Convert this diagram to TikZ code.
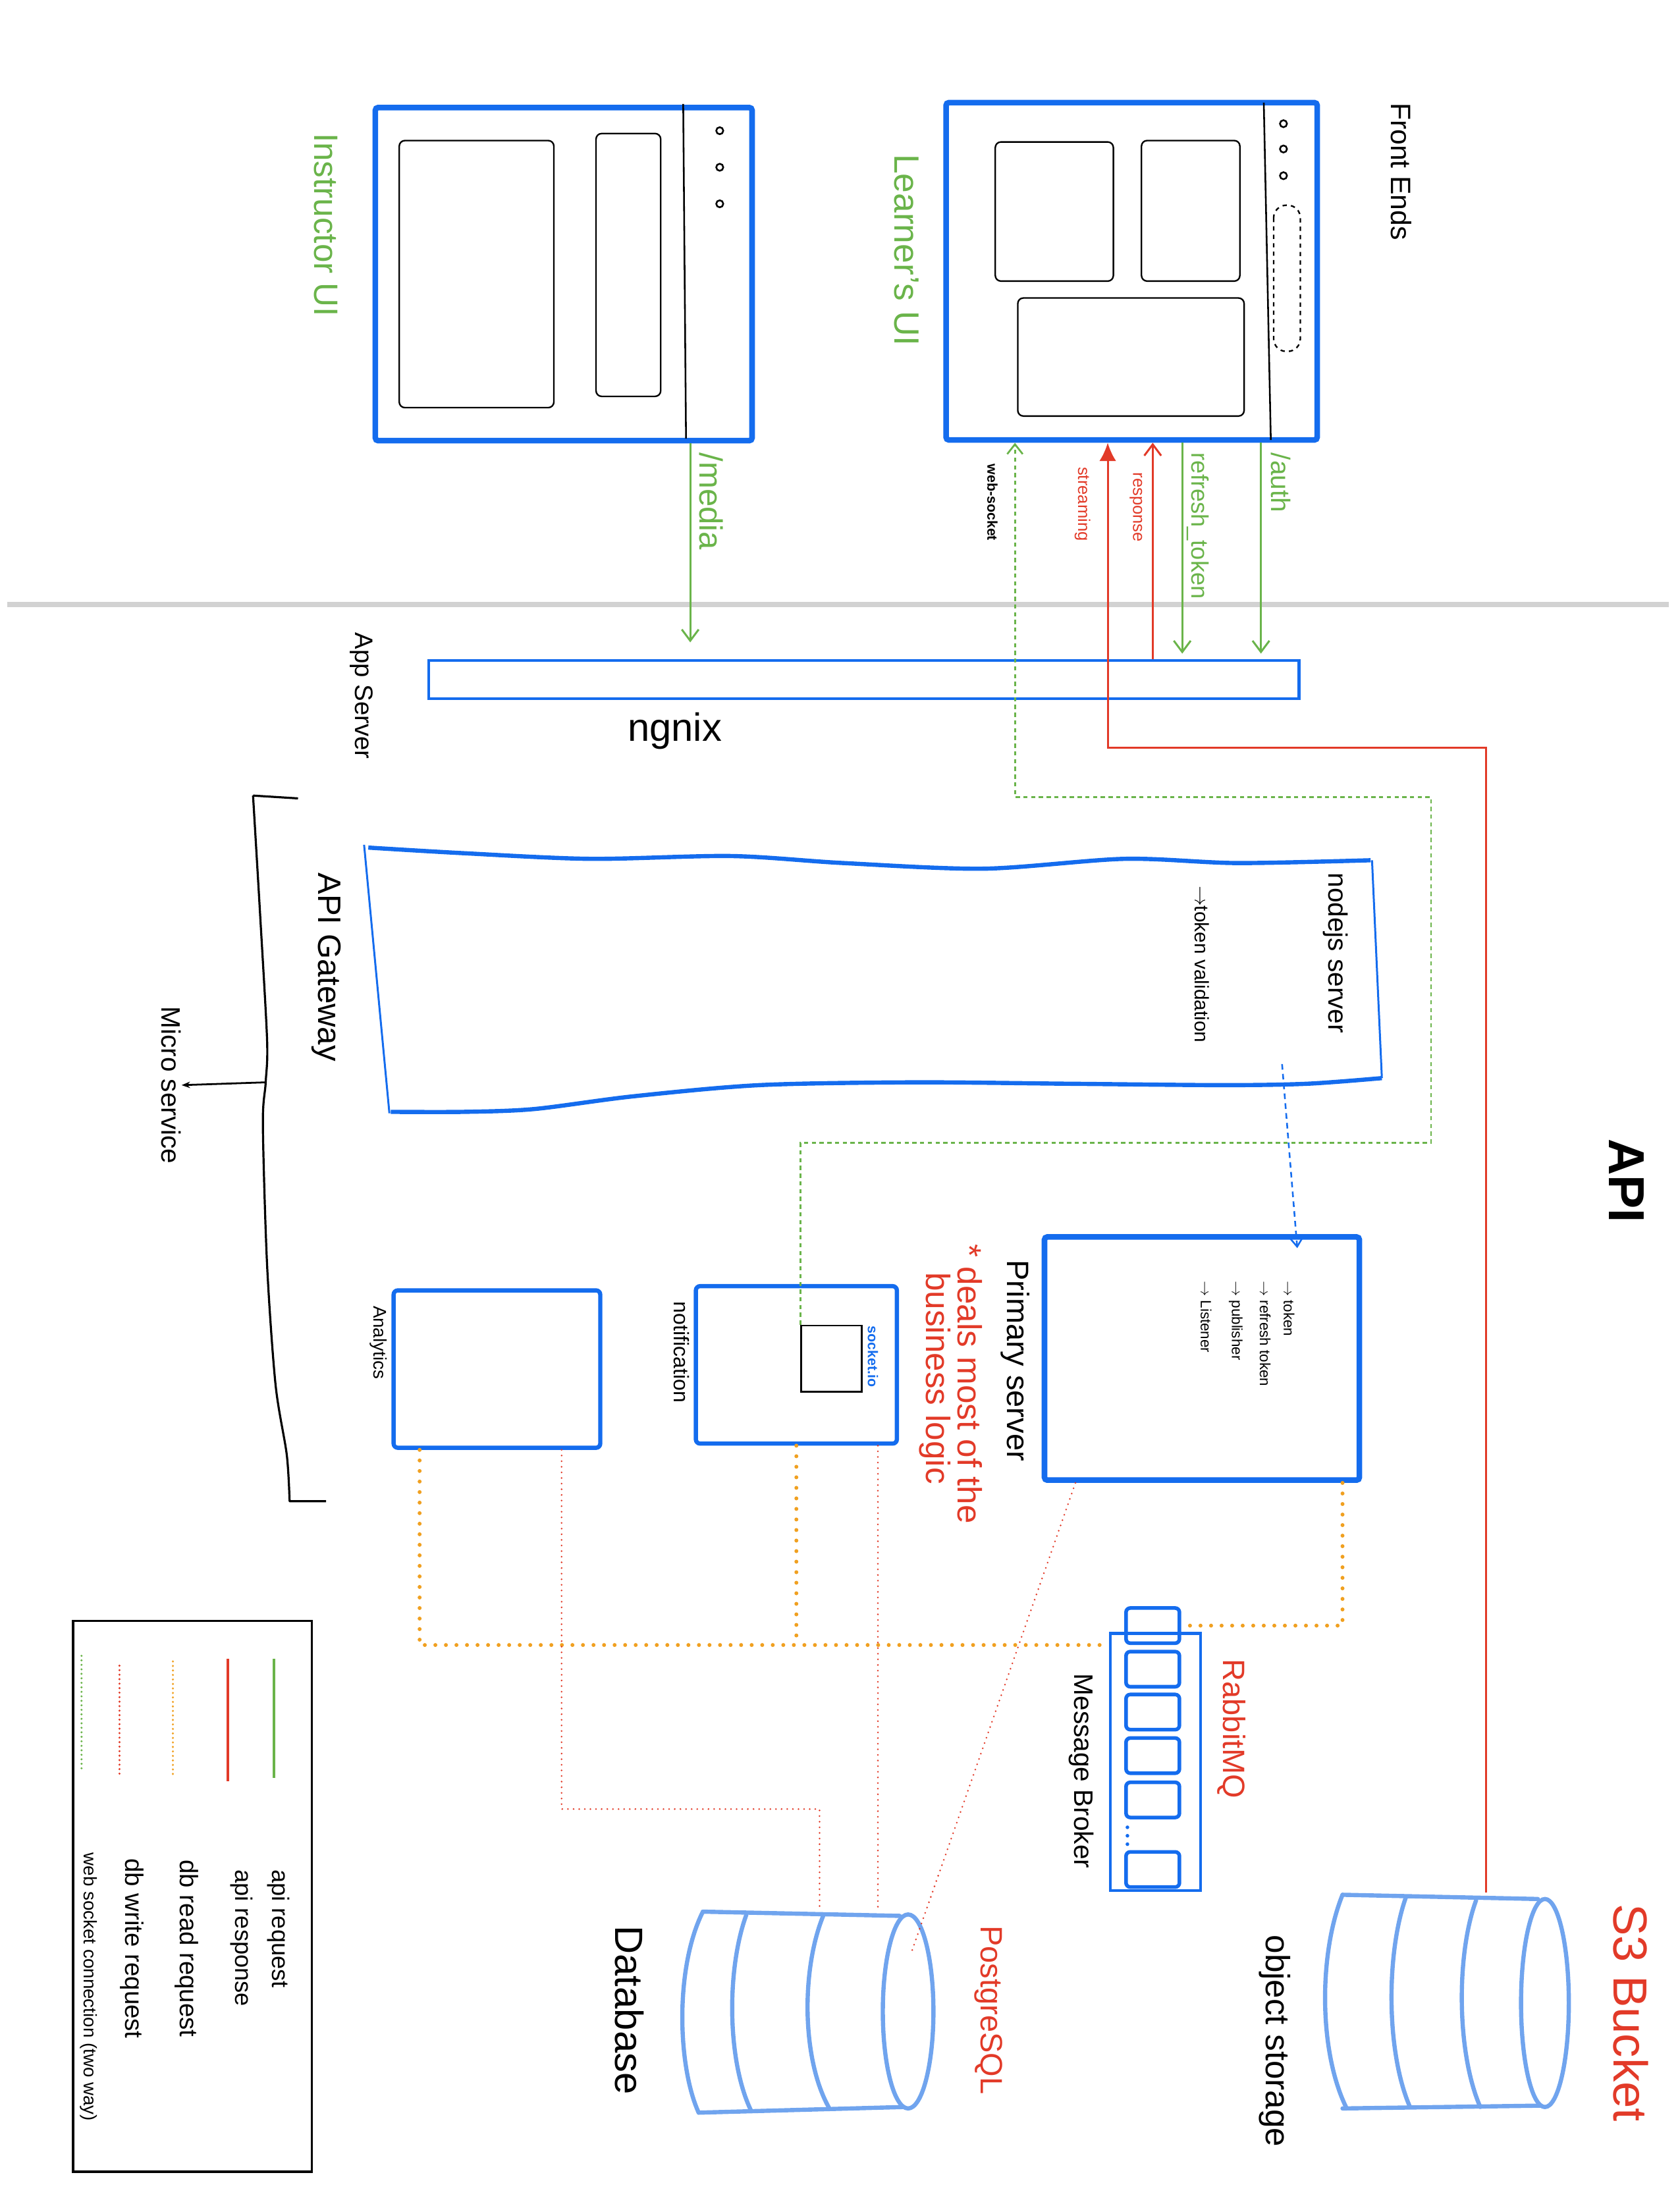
\documentclass[tikz,border=0pt]{standalone}
\usepackage{fontspec}
\setmainfont{Liberation Sans}
\usepackage{tikz}
\usetikzlibrary{shapes, arrows, arrows.meta, positioning}

\definecolor{penblue}{RGB}{20,108,238}
\definecolor{dbblue}{RGB}{112,164,238}
\definecolor{pengreen}{RGB}{106,180,74}
\definecolor{penred}{RGB}{226,58,40}
\definecolor{penorange}{RGB}{240,160,32}

\newcommand{\penfont}[1]{\fontsize{#1}{#1}\selectfont}

\tikzset{
  uibox/.style={draw=penblue, line width=4pt, rounded corners=2pt},
  svcbox/.style={draw=penblue, line width=3pt, rounded corners=3pt},
  qbox/.style={draw=penblue, line width=2.6pt, rounded corners=3pt, minimum width=38pt, minimum height=25pt},
  sketch/.style={draw=black, line width=1.1pt, rounded corners=4pt},
  txt/.style={rotate=-90, inner sep=0pt},
  apireq/.style={pengreen, line width=1.4pt},
  apires/.style={penred, line width=1.4pt},
  dbread/.style={penorange, line width=2.8pt, line cap=round, dash pattern=on 0pt off 7.5pt},
  dbwrite/.style={penred, line width=1.3pt, line cap=round, dash pattern=on 0pt off 4pt},
  wsock/.style={pengreen, line width=1.3pt, dash pattern=on 3pt off 2.5pt},
  cyl/.style={draw=dbblue, line width=3pt, line cap=round, line join=round},
  barb/.style={-{Straight Barb[length=8pt, width=12pt]}}
}

\begin{document}
\begin{tikzpicture}[x=1pt, y=-1pt]
        \useasboundingbox (0,0) rectangle (1195,1568);

        % Đường chia front end / back end
        \draw[gray!35, line width=4pt] (5,430) -- (1187,430);

        % Instructor UI
        \node[uibox, minimum width=268pt, minimum height=237pt] (iui) at (401,195) {};
        \draw[line width=1.2pt] (486,74) -- (488,312);
        \foreach \y in {93,119,145} {
            \draw[line width=1.2pt] (512,\y) circle (2.5pt);
        }
        \draw[sketch] (284,100) rectangle (394,290);
        \draw[sketch] (424,95) rectangle (470,282);
        \node[txt, pengreen, font=\penfont{24}] (iuil) at (232,160) {Instructor UI};

        % Learner's UI
        \node[uibox, minimum width=264pt, minimum height=240pt] (lui) at (805,193) {};
        \draw[line width=1.2pt] (899,73) -- (904,313);
        \foreach \y in {88,106,125} {
            \draw[line width=1.2pt] (913,\y) circle (2.5pt);
        }
        \draw[line width=1.1pt, dashed, rounded corners=9pt] (906,146) rectangle (925,250);
        \draw[sketch] (708,101) rectangle (792,200);
        \draw[sketch] (812,100) rectangle (882,200);
        \draw[sketch] (724,212) rectangle (885,296);
        \node[txt, pengreen, font=\penfont{25}] (luil) at (645,178) {Learner's UI};
        \node[txt, font=\penfont{20}] (fe) at (997,122) {Front Ends};

        % App server (nginx)
        \node[draw=penblue, line width=2pt, minimum width=619pt, minimum height=27pt] (ngx) at (614.5,483.5) {};
        \node[font=\penfont{28}] (ngxl) at (480,520) {ngnix};
        \node[txt, font=\penfont{18}] (app) at (257,495) {App Server};

        % Request / response giữa front end và nginx
        \coordinate (xmedia) at (491,0);
        \coordinate (xauth) at (897,0);
        \coordinate (xref) at (841,0);
        \coordinate (xresp) at (820,0);
        \draw[apireq, barb, shorten >=12pt] (iui.south -| xmedia) -- (ngx.north -| xmedia);
        \draw[apireq, barb, shorten >=4pt] (lui.south -| xauth) -- (ngx.north -| xauth);
        \draw[apireq, barb, shorten >=4pt] (lui.south -| xref) -- (ngx.north -| xref);
        \draw[apires, barb] (ngx.north -| xresp) -- (lui.south -| xresp);
        \node[txt, anchor=west, pengreen, font=\penfont{23}] (medl) at (506,322) {/media};
        \node[txt, anchor=west, pengreen, font=\penfont{19}] (authl) at (911,322) {/auth};
        \node[txt, anchor=west, pengreen, font=\penfont{17}] (refl) at (852,322) {refresh\_token};
        \node[txt, anchor=west, penred, font=\penfont{12}] (respl) at (808,336) {response};
        \node[txt, anchor=west, penred, font=\penfont{12}] (strl) at (770,332) {streaming};
        \node[txt, anchor=west, font=\bfseries\penfont{10}] (wsl) at (706,330) {web-socket};

        % API Gateway
        \node[minimum width=721pt, minimum height=184pt] (gw) at (622.5,695) {};
        \draw[penblue, line width=3pt] plot[smooth] coordinates {(262,603) (330,607) (420,611) (520,609) (600,614) (700,618) (800,611) (880,614) (975,612)};
        \draw[penblue, line width=3pt] plot[smooth] coordinates {(278,791) (330,791) (380,789) (450,780) (540,772) (650,770) (760,771) (870,772) (930,771) (983,767)};
        \draw[penblue, line width=1.4pt] (259,601) -- (277,792);
        \draw[penblue, line width=1.4pt] (976,612) -- (983,767);
        \node[txt, font=\penfont{23}] (gwl) at (232,688) {API Gateway};
        \node[txt, font=\penfont{19}] (node) at (950,678) {nodejs server};
        \node[txt, font=\penfont{14}] (tokv) at (855,686) {$\to$token validation};

        % Micro service
        \draw[line width=1.5pt, line join=round] (212,568) -- (180,566)
            plot[smooth] coordinates {(180,566) (185,650) (190,740) (189,770) (187,800) (190,900) (196,985) (204,1035) (206,1068)}
            -- (232,1068);
        \coordinate (brk) at (189,770);
        \node[txt, font=\penfont{19}] (ms) at (122,772) {Micro service};
        \draw[line width=1.3pt, -{Stealth[length=6pt]}] (brk) -- (ms.north);
        \node[font=\bfseries\penfont{36}, rotate=-90] (api) at (1157,840) {API};

        % Primary server
        \node[uibox, minimum width=224pt, minimum height=173pt] (ps) at (855,966.5) {};
        \node[txt, font=\penfont{22}] (psl) at (722,968) {Primary server};
        \node[txt, anchor=west, penred, font=\penfont{24}] (note1) at (690,885) {* deals most of the};
        \node[txt, anchor=west, penred, font=\penfont{24}] (note2) at (665,905) {business logic};
        \foreach \x/\lab [count=\i] in {917/token, 900/refresh token, 879/publisher, 858/Listener} {
            \node[txt, anchor=west, font=\penfont{10.5}] (psi\i) at (\x,911) {$\to$ \lab};
        }
        \coordinate (gwout) at (912,757);
        \draw[penblue, line width=1.2pt, dash pattern=on 4pt off 3pt, -{Straight Barb[length=7pt, width=10pt]}, shorten >=-10pt]
            (gwout) -- ([xshift=67pt]ps.north);

        % Notification
        \node[svcbox, minimum width=143pt, minimum height=112pt] (nt) at (566.5,971) {};
        \node[draw, line width=1.2pt, minimum width=43pt, minimum height=47pt] (sock) at (591.5,966.5) {};
        \node[txt, penblue, font=\bfseries\penfont{10}] (sockl) at (621,965) {socket.io};
        \node[txt, font=\penfont{15}] (ntl) at (485,962) {notification};

        % Analytics
        \node[svcbox, minimum width=147pt, minimum height=112pt] (an) at (353.5,974) {};
        \node[txt, font=\penfont{13}] (anl) at (269,955) {Analytics};

        % Message broker
        \node[draw=penblue, line width=2pt, minimum width=64pt, minimum height=183pt] (mq) at (822,1253.5) {};
        \node[qbox] (mq0) at (820,1156.5) {};
        \foreach \y [count=\i] in {1187.5,1218,1249,1280.5,1330} {
            \node[qbox] (mq\i) at (820,\y) {};
        }
        \foreach \y in {1300,1306,1312} {
            \fill[penblue] (802,\y) circle (1.3pt);
        }
        \node[txt, penred, font=\penfont{22}] (mql) at (876,1230) {RabbitMQ};
        \node[txt, font=\penfont{19}] (mqb) at (769,1260) {Message Broker};

        % Database
        \node[minimum width=175pt, minimum height=143pt] (db) at (572,1431) {};
        \draw[cyl] (500,1360) -- (640,1363);
        \draw[cyl] (497,1503) -- (642,1499);
        \draw[cyl] (500,1360) .. controls (480,1400) and (482,1470) .. (497,1503);
        \draw[cyl] (531,1362) .. controls (517,1400) and (517,1465) .. (534,1501);
        \draw[cyl] (586,1362) .. controls (570,1400) and (570,1465) .. (590,1500);
        \draw[cyl] (646,1431) ellipse (18pt and 69pt);
        \node[txt, font=\penfont{28}] (dbl) at (448,1430) {Database};
        \node[txt, penred, font=\penfont{22}] (pg) at (703,1430) {PostgreSQL};

        % Object storage
        \node[minimum width=170pt, minimum height=153pt] (os) at (1030,1423) {};
        \draw[cyl] (955,1348) -- (1094,1351);
        \draw[cyl] (955,1500) -- (1096,1498);
        \draw[cyl] (955,1348) .. controls (938,1390) and (938,1460) .. (958,1500);
        \draw[cyl] (1000,1350) .. controls (986,1390) and (986,1460) .. (1003,1499);
        \draw[cyl] (1050,1352) .. controls (1036,1390) and (1036,1460) .. (1053,1499);
        \draw[cyl] (1099,1425) ellipse (17pt and 74pt);
        \node[txt, font=\penfont{24}] (osl) at (907,1452) {object storage};
        \node[txt, penred, font=\penfont{34}] (s3) at (1160,1432) {S3 Bucket};

        % Streaming từ S3 về learner
        \coordinate (stA) at (1057,532);
        \coordinate (stB) at (788,532);
        \draw[apires, -{Latex[length=13pt, width=12pt]}] (os.north -| stA) -- (stA) -- (stB) -- (lui.south -| stB);

        % Web socket
        \coordinate (wsA) at (1018,813);
        \coordinate (wsB) at (1018,567);
        \coordinate (wsC) at (722,567);
        \draw[wsock, -{Straight Barb[length=7pt, width=11pt]}] (sock.north west) |- (wsA) -- (wsB) -- (wsC) -- (lui.south -| wsC);

        % db read (cam)
        \path ([xshift=-55pt]an.south) coordinate (anq)
              (nt.south) coordinate (ntq)
              ([xshift=100pt]ps.south) coordinate (psq);
        \draw[dbread] (anq) |- (mq.west |- mq0.south);
        \draw[dbread] (ntq) -- (ntq |- mq0.south);
        \draw[dbread] (psq) |- (mq0.east);

        % db write (đỏ)
        \coordinate (dbjoin) at (583,1287);
        \coordinate (dbhit) at (648,1390);
        \path ([xshift=46pt]an.south) coordinate (anw)
              ([xshift=58pt]nt.south) coordinate (ntw)
              ([xshift=-90pt]ps.south) coordinate (psw);
        \draw[dbwrite] (anw) |- (dbjoin) -- (dbjoin |- db.north);
        \draw[dbwrite] (ntw) -- (ntw |- db.north);
        \draw[dbwrite] (psw) -- (dbhit);

        % Chú thích
        \node[draw, line width=1.5pt, minimum width=170pt, minimum height=392pt] (lg) at (137,1349) {};
        \draw[pengreen, line width=2pt] (195,1180) -- (195,1265);
        \draw[penred, line width=2pt] (162,1180) -- (162,1267);
        \draw[penorange, line width=1.6pt, line cap=round, dash pattern=on 0pt off 3.2pt] (123,1182) -- (123,1262);
        \draw[penred, line width=1.6pt, line cap=round, dash pattern=on 0pt off 3.2pt] (85,1185) -- (85,1262);
        \draw[pengreen, line width=1.6pt, line cap=round, dash pattern=on 0pt off 3.2pt] (58,1178) -- (58,1258);
        \foreach \x/\y/\s/\lab [count=\i] in {198/1330/17/api request, 172/1330/17/api response,
                133/1323/18/db read request, 94/1322/18/db write request,
                63/1318/13/web socket connection (two way)} {
            \node[txt, anchor=west, font=\penfont{\s}] (leg\i) at (\x,\y) {\lab};
        }
\end{tikzpicture}
\end{document}
